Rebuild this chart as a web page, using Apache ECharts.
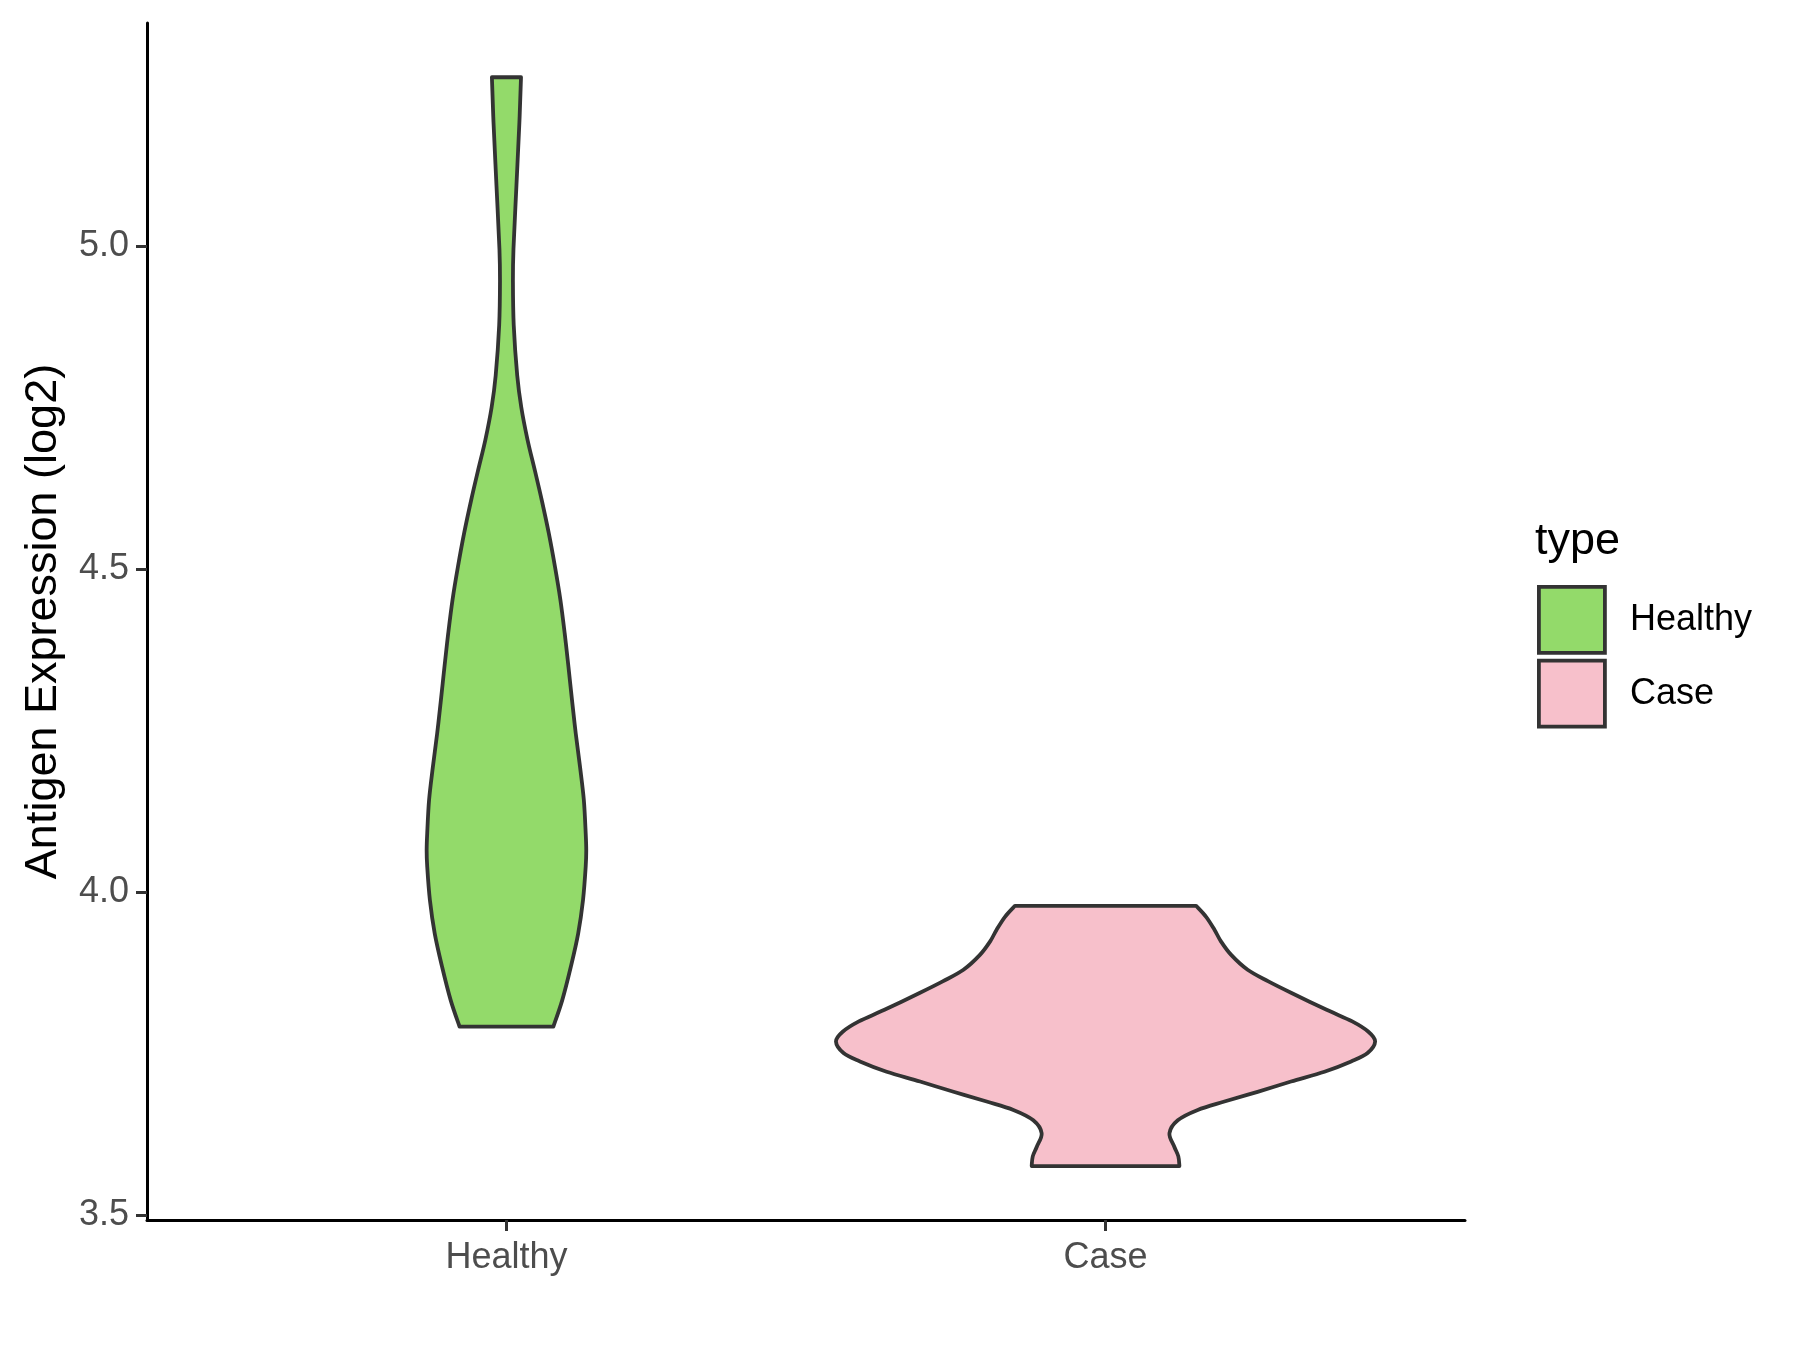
<!DOCTYPE html>
<html>
<head>
<meta charset="utf-8">
<script src="https://cdn.jsdelivr.net/npm/echarts@6/dist/echarts.min.js"></script>
<style>
  html, body { margin: 0; padding: 0; background: #ffffff; }
  #chart { width: 1800px; height: 1350px; }
</style>
</head>
<body>
<div id="chart"></div>
<script>
// ---- data ----
const categories = ['Healthy', 'Case'];
const yTickValues = [3.5, 4.0, 4.5, 5.0];
const legendTitle = 'type';
const yTitle = 'Antigen Expression (log2)';

// violin outlines: y values and relative density half-widths (Case max = 1)
const healthyY = [3.792, 3.833, 3.885, 3.936, 3.988, 4.040, 4.065, 4.091, 4.143, 4.194, 4.246, 4.298, 4.349, 4.401, 4.453, 4.504, 4.556, 4.607, 4.652, 4.701, 4.751, 4.800, 4.878, 4.947, 4.996, 5.094, 5.192, 5.262];
const healthyW = [0.174, 0.207, 0.239, 0.266, 0.284, 0.294, 0.296, 0.294, 0.287, 0.273, 0.257, 0.243, 0.230, 0.216, 0.200, 0.180, 0.157, 0.131, 0.106, 0.078, 0.055, 0.040, 0.027, 0.024, 0.026, 0.037, 0.048, 0.054];

const caseY = [3.576, 3.591, 3.606, 3.627, 3.647, 3.663, 3.676, 3.691, 3.707, 3.722, 3.738, 3.751, 3.769, 3.784, 3.800, 3.818, 3.844, 3.862, 3.880, 3.903, 3.924, 3.942, 3.962, 3.979];
const caseW = [0.274, 0.270, 0.255, 0.237, 0.268, 0.342, 0.441, 0.564, 0.688, 0.812, 0.911, 0.972, 1.000, 0.975, 0.915, 0.820, 0.690, 0.604, 0.527, 0.466, 0.428, 0.404, 0.373, 0.336];

const colors = ['#93DA6A', '#F7C0CB'];
const outline = '#333333';
const FONT = '"Liberation Sans", Arial, sans-serif';
const MAX_HALF = 0.45;

function catmull(points) {
  let d = '';
  for (let i = 0; i < points.length - 1; i++) {
    const p0 = points[Math.max(0, i - 1)];
    const p1 = points[i];
    const p2 = points[i + 1];
    const p3 = points[Math.min(points.length - 1, i + 2)];
    const c1 = [p1[0] + (p2[0] - p0[0]) / 6, p1[1] + (p2[1] - p0[1]) / 6];
    const c2 = [p2[0] - (p3[0] - p1[0]) / 6, p2[1] - (p3[1] - p1[1]) / 6];
    d += ' C' + c1[0] + ',' + c1[1] + ' ' + c2[0] + ',' + c2[1] + ' ' + p2[0] + ',' + p2[1];
  }
  return d;
}

function makeRender(ys, ws, idx) {
  return function (params, api) {
    const center = idx + 1;
    const right = ys.map((y, i) => api.coord([center + ws[i] * MAX_HALF, y]));
    const left = ys.map((y, i) => api.coord([center - ws[i] * MAX_HALF, y])).reverse();
    let d = 'M' + right[0][0] + ',' + right[0][1];
    d += catmull(right);
    d += ' L' + left[0][0] + ',' + left[0][1];
    d += catmull(left);
    d += ' Z';
    return {
      type: 'path',
      shape: { pathData: d },
      style: { fill: colors[idx], stroke: outline, lineWidth: 3.8, lineJoin: 'round' }
    };
  };
}

const chart = echarts.init(document.getElementById('chart'), null, { renderer: 'canvas' });
chart.setOption({
  backgroundColor: '#ffffff',
  animation: false,
  grid: { left: 147, right: 335, top: 23, bottom: 130, containLabel: false },
  title: {
    text: legendTitle,
    left: 1535, top: 519,
    textStyle: { fontFamily: FONT, fontSize: 45, fontWeight: 'normal', color: '#000000' },
    padding: 0
  },
  legend: {
    orient: 'vertical',
    left: 1537, top: 585,
    itemWidth: 66, itemHeight: 66, itemGap: 4,
    icon: 'rect',
    padding: 0,
    textStyle: { fontFamily: FONT, fontSize: 36, color: '#000000', padding: [5, 0, 0, 20] },
    data: categories.map((c, i) => ({
      name: c,
      itemStyle: { color: colors[i], borderColor: outline, borderWidth: 3.8 }
    }))
  },
  xAxis: {
    type: 'value', min: 0.4, max: 2.6,
    axisLine: { show: true, onZero: false, lineStyle: { color: '#000000', width: 3 } },
    axisTick: { show: true, length: 11, customValues: [1, 2], lineStyle: { color: '#333333', width: 3 } },
    axisLabel: {
      show: true, customValues: [1, 2], margin: 20,
      formatter: v => categories[Math.round(v) - 1] || '',
      fontFamily: FONT, fontSize: 36, color: '#4D4D4D'
    },
    splitLine: { show: false }
  },
  yAxis: {
    type: 'value', min: 3.4925, max: 5.346,
    name: yTitle, nameLocation: 'middle', nameGap: 81, nameRotate: 90,
    nameTextStyle: { fontFamily: FONT, fontSize: 45, color: '#000000' },
    axisLine: { show: true, onZero: false, lineStyle: { color: '#000000', width: 3 } },
    axisTick: { show: true, length: 11, customValues: yTickValues, lineStyle: { color: '#333333', width: 3 } },
    axisLabel: {
      show: true, customValues: yTickValues, margin: 18,
      formatter: v => v.toFixed(1),
      fontFamily: FONT, fontSize: 36, color: '#4D4D4D'
    },
    splitLine: { show: false }
  },
  series: [
    { type: 'custom', name: categories[0], renderItem: makeRender(healthyY, healthyW, 0), data: [[1, healthyY[0]]],
      itemStyle: { color: colors[0], borderColor: outline, borderWidth: 3.8 } },
    { type: 'custom', name: categories[1], renderItem: makeRender(caseY, caseW, 1), data: [[2, caseY[0]]],
      itemStyle: { color: colors[1], borderColor: outline, borderWidth: 3.8 } }
  ]
});
</script>
</body>
</html>
